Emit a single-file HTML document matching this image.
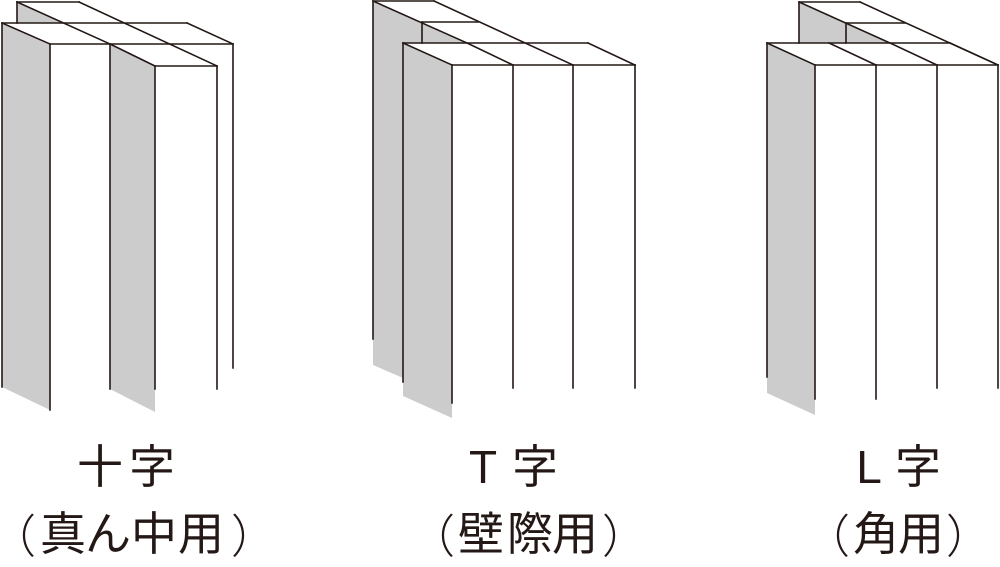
<!DOCTYPE html>
<html><head><meta charset="utf-8"><style>
html,body{margin:0;padding:0;background:#fff;}
svg{display:block;}
text{font-family:"Liberation Sans","Noto Sans CJK JP",sans-serif;font-size:46px;fill:#231815;}
text.p{font-family:"Noto Sans CJK JP",sans-serif;font-weight:300;}
</style></head><body>
<svg width="1000" height="567" viewBox="0 0 1000 567" xmlns="http://www.w3.org/2000/svg">
<g fill="#cccccc" stroke="none">
<polygon points="17,2 63,23 17,23"/>
<polygon points="2,23 50,44 50,410 2,387"/>
<polygon points="110,44 155,66 155,412 110,389"/>
<polygon points="373,1 467,43 403,43 403,378 373,365"/>
<polygon points="403,43 452,65 452,418 403,396"/>
<polygon points="799,2 890,43 799,43"/>
<polygon points="767,43 815,65 815,415 767,393"/>
</g>
<g stroke="#231815" stroke-width="1.6" fill="none" stroke-linecap="square">
<line x1="17" y1="2" x2="79" y2="2"/>
<line x1="17" y1="2" x2="110" y2="44"/>
<line x1="110" y1="44" x2="155" y2="66"/>
<line x1="79" y1="2" x2="217" y2="66"/>
<line x1="2" y1="23" x2="187" y2="23"/>
<line x1="50" y1="44" x2="233" y2="44"/>
<line x1="155" y1="66" x2="217" y2="66"/>
<line x1="2" y1="23" x2="50" y2="44"/>
<line x1="187" y1="23" x2="233" y2="44"/>
<line x1="17" y1="2" x2="17" y2="23"/>
<line x1="2" y1="23" x2="2" y2="387"/>
<line x1="50" y1="44" x2="50" y2="410"/>
<line x1="110" y1="44" x2="110" y2="389"/>
<line x1="155" y1="66" x2="155" y2="389"/>
<line x1="217" y1="66" x2="217" y2="389"/>
<line x1="233" y1="44" x2="233" y2="368"/>
<line x1="373" y1="1" x2="434" y2="1"/>
<line x1="373" y1="1" x2="467" y2="43"/>
<line x1="434" y1="1" x2="573" y2="65"/>
<line x1="422" y1="22" x2="478" y2="22"/>
<line x1="422" y1="22" x2="422" y2="43"/>
<line x1="403" y1="43" x2="588" y2="43"/>
<line x1="452" y1="65" x2="635" y2="65"/>
<line x1="403" y1="43" x2="452" y2="65"/>
<line x1="467" y1="43" x2="513" y2="65"/>
<line x1="588" y1="43" x2="635" y2="65"/>
<line x1="373" y1="1" x2="373" y2="339"/>
<line x1="403" y1="43" x2="403" y2="382"/>
<line x1="452" y1="65" x2="452" y2="403"/>
<line x1="513" y1="65" x2="513" y2="388"/>
<line x1="573" y1="65" x2="573" y2="388"/>
<line x1="635" y1="65" x2="635" y2="388"/>
<line x1="799" y1="2" x2="860" y2="2"/>
<line x1="799" y1="2" x2="890" y2="43"/>
<line x1="860" y1="2" x2="998" y2="65"/>
<line x1="846" y1="23" x2="905" y2="23"/>
<line x1="846" y1="23" x2="846" y2="43"/>
<line x1="799" y1="2" x2="799" y2="43"/>
<line x1="767" y1="43" x2="950" y2="43"/>
<line x1="767" y1="43" x2="815" y2="65"/>
<line x1="829" y1="43" x2="876" y2="65"/>
<line x1="890" y1="43" x2="937" y2="65"/>
<line x1="950" y1="43" x2="998" y2="65"/>
<line x1="815" y1="65" x2="998" y2="65"/>
<line x1="767" y1="43" x2="767" y2="377"/>
<line x1="815" y1="65" x2="815" y2="399"/>
<line x1="876" y1="65" x2="876" y2="399"/>
<line x1="937" y1="65" x2="937" y2="388"/>
<line x1="998" y1="65" x2="998" y2="388"/>
</g>
<g text-anchor="middle" dominant-baseline="central">
<text x="100" y="467">十</text><text x="152" y="467">字</text>
<text class="p" x="13" y="534">（</text><text x="63" y="534">真</text><text x="108" y="534">ん</text><text x="154" y="534">中</text><text x="201" y="534">用</text><text class="p" x="254" y="534">）</text>
<text x="483" y="467">T</text><text x="535" y="467">字</text>
<text class="p" x="432" y="534">（</text><text x="481" y="534">壁</text><text x="530" y="534">際</text><text x="575" y="534">用</text><text class="p" x="625" y="534">）</text>
<text x="869" y="467">L</text><text x="918" y="467">字</text>
<text class="p" x="827" y="534">（</text><text x="876" y="534">角</text><text x="921" y="534">用</text><text class="p" x="969" y="534">）</text>
</g>
</svg>
</body></html>
